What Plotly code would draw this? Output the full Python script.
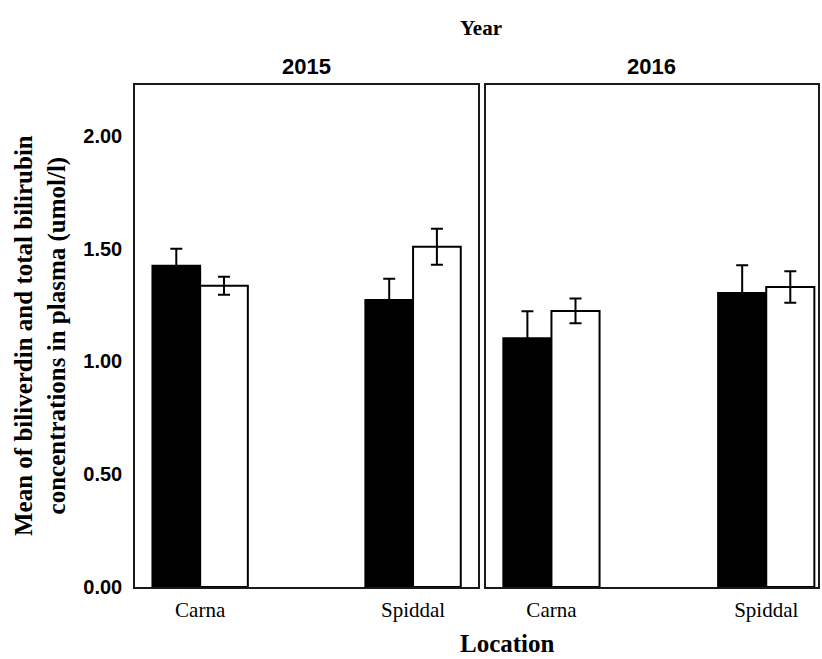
import plotly.graph_objects as go

# Mean plasma concentrations (umol/l) with error-bar half-widths
locations = ["Carna", "Spiddal"]
years = ["2015", "2016"]

biliverdin_2015 = [1.425, 1.273]
biliverdin_2015_err = [0.075, 0.094]
bilirubin_2015 = [1.336, 1.509]
bilirubin_2015_err = [0.040, 0.080]

biliverdin_2016 = [1.103, 1.304]
biliverdin_2016_err = [0.120, 0.123]
bilirubin_2016 = [1.224, 1.330]
bilirubin_2016_err = [0.055, 0.070]

y_ticks = [0.0, 0.5, 1.0, 1.5, 2.0]
y_tick_text = ["0.00", "0.50", "1.00", "1.50", "2.00"]

SERIF = "Liberation Serif, Times New Roman, serif"
SANS = "Liberation Sans, Arial, sans-serif"

fig = go.Figure()

panels = [
    ("x", "y", biliverdin_2015, biliverdin_2015_err, bilirubin_2015, bilirubin_2015_err),
    ("x2", "y2", biliverdin_2016, biliverdin_2016_err, bilirubin_2016, bilirubin_2016_err),
]

for xa, ya, bv, bv_err, br, br_err in panels:
    fig.add_trace(go.Bar(
        x=locations, y=bv, name="Biliverdin", xaxis=xa, yaxis=ya,
        marker=dict(color="black", line=dict(color="black", width=2)),
        error_y=dict(type="data", array=bv_err, visible=True,
                     color="black", thickness=2, width=6),
        showlegend=False, offsetgroup="bv",
    ))
    fig.add_trace(go.Bar(
        x=locations, y=br, name="Total bilirubin", xaxis=xa, yaxis=ya,
        marker=dict(color="white", line=dict(color="black", width=2)),
        error_y=dict(type="data", array=br_err, visible=True,
                     color="black", thickness=2, width=6),
        showlegend=False, offsetgroup="br",
    ))

axis_line = dict(showline=True, linecolor="#1a1a1a", linewidth=1.5, mirror=True,
                 showgrid=False, zeroline=False)

fig.update_layout(
    width=822, height=659,
    margin=dict(l=135, r=2, t=85, b=72),
    paper_bgcolor="white", plot_bgcolor="white",
    barmode="group", bargap=0.552, bargroupgap=0,
    xaxis=dict(domain=[0, 0.5025], range=[-0.306, 1.306], type="category",
               tickfont=dict(family=SERIF, size=21, color="black"),
               ticks="", ticklabelstandoff=3, **axis_line),
    xaxis2=dict(domain=[0.5135, 1], range=[-0.306, 1.241], type="category",
                tickfont=dict(family=SERIF, size=21, color="black"),
                ticks="", ticklabelstandoff=3, **axis_line),
    yaxis=dict(domain=[0, 1], range=[0, 2.226], tickvals=y_ticks, ticktext=y_tick_text,
               tickfont=dict(family=SANS, size=20, color="black", weight="bold"),
               ticks="", ticklabelstandoff=7, **axis_line),
    yaxis2=dict(domain=[0, 1], range=[0, 2.226], anchor="x2", matches="y",
                showticklabels=False, ticks="", **axis_line),
)

# Panel titles for each year, the facet heading and the shared axis titles
fig.add_annotation(text="<b>2015</b>", xref="x domain", yref="paper", x=0.5, y=1,
                   yanchor="bottom", yshift=4, showarrow=False,
                   font=dict(family=SANS, size=22, color="black"))
fig.add_annotation(text="<b>2016</b>", xref="x2 domain", yref="paper", x=0.5, y=1,
                   yanchor="bottom", yshift=4, showarrow=False,
                   font=dict(family=SANS, size=22, color="black"))
fig.add_annotation(text="<b>Year</b>", xref="paper", yref="paper", x=0.507, y=1,
                   yanchor="middle", yshift=57, showarrow=False,
                   font=dict(family=SERIF, size=21, color="black"))
fig.add_annotation(text="<b>Location</b>", xref="paper", yref="paper", x=0.546, y=0,
                   yanchor="middle", yshift=-56, showarrow=False,
                   font=dict(family=SERIF, size=25, color="black"))
fig.add_annotation(text="<b>Mean of biliverdin and total bilirubin<br>concentrations in plasma (umol/l)</b>",
                   xref="paper", yref="paper", x=0, y=0.5, xanchor="center",
                   xshift=-95, yshift=0, textangle=-90, showarrow=False,
                   font=dict(family=SERIF, size=25, color="black"))

fig.write_html("out.html")
